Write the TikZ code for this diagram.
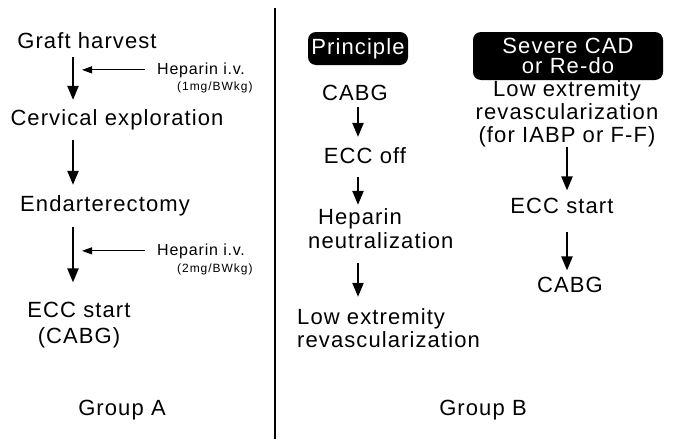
\documentclass[tikz,border=0pt]{standalone}
\usepackage{fontspec}
\setmainfont{Liberation Sans}
\newfontfamily\widesans[LetterSpace=5]{Liberation Sans}
\newfontfamily\dosesans[LetterSpace=8]{Liberation Sans}
\usetikzlibrary{positioning,calc}
\usetikzlibrary{arrows.meta}
\tikzset{
  stage/.style={font=\widesans\fontsize{22}{23}\selectfont,inner sep=0pt,anchor=base},
  hep/.style={font=\widesans\fontsize{16}{17}\selectfont,inner sep=0pt,anchor=base west},
  dose/.style={font=\dosesans\fontsize{12}{13}\selectfont,inner sep=0pt,anchor=base west},
  tag/.style={fill=black,text=white,rounded corners=8pt,inner sep=0pt,align=center,
    font=\widesans\fontsize{22}{20}\selectfont},
}
\tikzset{flow/.style={draw=black,line width=2.2pt,-{Triangle[length=14pt,width=11pt]}},
  feed/.style={draw=black,line width=1.1pt,-{Triangle[length=10pt,width=7pt]}}}

\begin{document}
\begin{tikzpicture}[x=1pt,y=-1pt]
\useasboundingbox (0,0) rectangle (674,439);
% group A
\coordinate (spineA) at (73,0);
\node[stage] (graft) at (87,48) {Graft harvest};
\node[stage] (cerv) at (117,125) {Cervical exploration};
\node[stage] (endart) at (105,211) {Endarterectomy};
\node[stage,align=center] (eccA) at (79,343) {ECC start\\[3pt](CABG)};
\node[stage] (grpA) at (122,415) {Group A};
\node[hep] (hepA) at (157,74) {Heparin i.v.};
\node[dose] (doseA) at (177,90) {(1mg/BWkg)};
\node[hep] (hepAA) at (157,255) {Heparin i.v.};
\node[dose] (doseAA) at (177,272) {(2mg/BWkg)};
\coordinate (dripA) at (82,0);
\draw[flow,shorten <=9pt,shorten >=9pt] (graft.south -| spineA) -- (cerv.north -| spineA);
\draw[flow,shorten <=10.6pt,shorten >=10pt] (cerv.south -| spineA) -- (endart.north -| spineA);
\draw[flow,shorten <=11.6pt,shorten >=19pt] (endart.south -| spineA) -- (eccA.north -| spineA);
\draw[feed,shorten <=12pt] (hepA.west) -- (hepA.west -| dripA);
\draw[feed,shorten <=12pt] (hepAA.west) -- (hepAA.west -| dripA);
% divider
\draw[line width=1.2pt] (275,8) -- (275,439);
% group B, principle
\node[tag,minimum width=100pt,minimum height=33pt] (prin) at (358,48.5) {Principle};
\coordinate (spineB) at (358,0);
\node[stage] (cabgB) at (355,100) {CABG};
\node[stage] (eccoff) at (365,163) {ECC off};
\node[stage,align=left,anchor=base west] (neut) at (308,248) {\hspace*{10pt}Heparin\\[1pt]neutralization};
\node[stage,align=left,anchor=base west] (lowB) at (297,347) {Low extremity\\revascularization};
\draw[flow,shorten <=7pt,shorten >=10pt] (cabgB.south -| spineB) -- (eccoff.north -| spineB);
\draw[flow,shorten <=14pt,shorten >=3pt] (eccoff.south -| spineB) -- (neut.north -| spineB);
\draw[flow,shorten <=15pt,shorten >=11pt] (neut.south -| spineB) -- (lowB.north -| spineB);
% group B, severe CAD
\node[tag,minimum width=190pt,minimum height=48pt] (sev) at (568,56) {Severe CAD\\or Re-do};
\coordinate (spineC) at (567,0);
\node[stage,align=center] (lowC) at (567,142) {Low extremity\\revascularization\\(for IABP or F-F)};
\node[stage] (eccC) at (562,213) {ECC start};
\node[stage] (cabgC) at (570,292) {CABG};
\draw[flow,shorten <=0pt,shorten >=7pt] (lowC.south -| spineC) -- (eccC.north -| spineC);
\draw[flow,shorten <=19pt,shorten >=6pt] (eccC.south -| spineC) -- (cabgC.north -| spineC);
\node[stage] (grpB) at (483,415) {Group B};
\end{tikzpicture}
\end{document}
